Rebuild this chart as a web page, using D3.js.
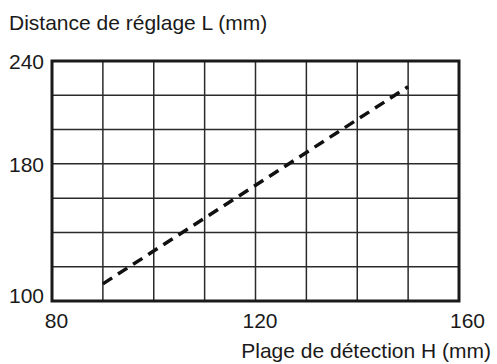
<!DOCTYPE html>
<html>
<head>
<meta charset="utf-8">
<script src="https://cdn.jsdelivr.net/npm/d3@7"></script>
<style>
  html, body { margin: 0; padding: 0; background: #fff; }
  svg { display: block; }
  text { font-family: "Liberation Sans", Arial, sans-serif; fill: #1a1a1a; }
</style>
</head>
<body>
<svg id="chart" width="497" height="364"></svg>
<script>
// Setting distance L versus detection range H
const detectionRange = [90, 150];       // H (mm)
const settingDistance = [110, 225];     // L (mm)

const xGridValues = [80, 90, 100, 110, 120, 130, 140, 150, 160];
const yGridValues = [100, 120, 140, 160, 180, 200, 220, 240];
const xTickLabels = [80, 120, 160];
const yTickLabels = [100, 180, 240];

const yTitle = "Distance de réglage L (mm)";
const xTitle = "Plage de détection H (mm)";

const svg = d3.select("#chart");
const plotLeft = 52, plotRight = 459, plotTop = 61, plotBottom = 301;
const fontSize = "21px";

const x = d3.scaleLinear().domain([80, 160]).range([plotLeft, plotRight]);
const y = d3.scaleLinear().domain([100, 240]).range([plotBottom, plotTop]);

// grid
const grid = svg.append("g").attr("stroke", "#2a2a2a").attr("stroke-width", 1.5);
grid.selectAll("line.v").data(xGridValues).join("line")
  .attr("class", "v")
  .attr("x1", d => x(d)).attr("x2", d => x(d))
  .attr("y1", plotTop).attr("y2", plotBottom);
grid.selectAll("line.h").data(yGridValues).join("line")
  .attr("class", "h")
  .attr("x1", plotLeft).attr("x2", plotRight)
  .attr("y1", d => y(d)).attr("y2", d => y(d));

// frame
svg.append("rect")
  .attr("x", plotLeft).attr("y", plotTop)
  .attr("width", plotRight - plotLeft).attr("height", plotBottom - plotTop)
  .attr("fill", "none").attr("stroke", "#1a1a1a").attr("stroke-width", 3);

// tick labels
const xAxis = d3.axisBottom(x).tickValues(xTickLabels).tickSize(0).tickPadding(0).tickFormat(d3.format("d"));
const gx = svg.append("g").attr("transform", `translate(0,${plotBottom})`).call(xAxis);
gx.select(".domain").remove();
gx.attr("font-family", null);
gx.selectAll("text")
  .attr("dy", null).attr("y", 27)
  .attr("dx", (d, i, n) => i === n.length - 1 ? 8 : 4)
  .style("font-size", fontSize).attr("fill", "#1a1a1a");

const yAxis = d3.axisLeft(y).tickValues(yTickLabels).tickSize(0).tickPadding(8).tickFormat(d3.format("d"));
const gy = svg.append("g").attr("transform", `translate(${plotLeft},0)`).call(yAxis);
gy.select(".domain").remove();
gy.attr("font-family", null);
gy.selectAll("text")
  .attr("dy", (d, i) => i === 0 ? "0.05em" : "0.35em")
  .style("font-size", fontSize).attr("fill", "#1a1a1a");

// dashed relation line
const pts = detectionRange.map((h, i) => [h, settingDistance[i]]);
svg.append("path")
  .datum(pts)
  .attr("d", d3.line().x(d => x(d[0])).y(d => y(d[1])))
  .attr("fill", "none")
  .attr("stroke", "#111")
  .attr("stroke-width", 3.5)
  .attr("stroke-dasharray", "11,7");

// titles
svg.append("text").attr("x", 9).attr("y", 30)
  .style("font-size", fontSize).text(yTitle);
svg.append("text").attr("x", 491).attr("y", 358)
  .attr("text-anchor", "end")
  .style("font-size", fontSize).text(xTitle);
</script>
</body>
</html>
